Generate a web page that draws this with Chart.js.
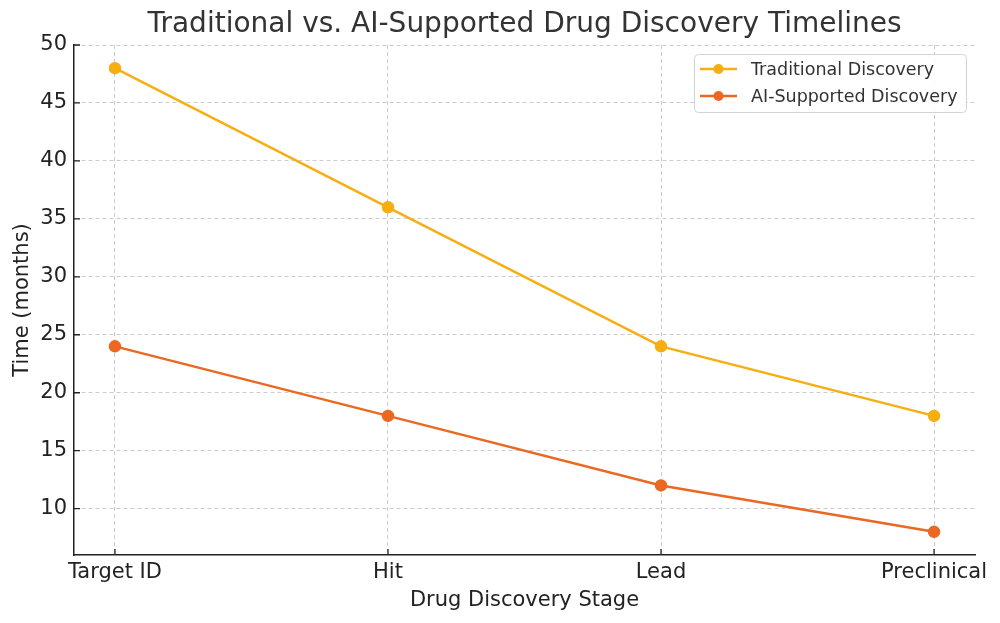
<!DOCTYPE html>
<html>
<head>
<meta charset="utf-8">
<script src="https://cdn.jsdelivr.net/npm/chart.js@4.4.1/dist/chart.umd.min.js"></script>
<style>
  html, body { margin: 0; padding: 0; background: #fff; }
  #wrap { width: 1000px; height: 623px; }
</style>
</head>
<body>
<div id="wrap"><canvas id="chart" width="1000" height="623"></canvas></div>
<script>
// chart data
const stages = ['Target ID', 'Hit', 'Lead', 'Preclinical'];
const traditional = [48, 36, 24, 18];
const aiSupported = [24, 18, 12, 8];
const yTicks = [10, 15, 20, 25, 30, 35, 40, 45, 50];

const FONT = "'DejaVu Sans', sans-serif";
const gridStyle = {
    color: '#cccccc',
    lineWidth: 1,
    drawTicks: false
};
const borderStyle = { display: true, color: '#222222', width: 1.5, dash: [4, 3] };

// title, inward tick marks and boxed legend
const extras = {
    id: 'extras',
    afterDraw(chart) {
        const ctx = chart.ctx;
        const area = chart.chartArea;
        const xs = chart.scales.x, ys = chart.scales.y;
        ctx.save();
        // title
        ctx.fillStyle = '#333333';
        ctx.font = '28px ' + FONT;
        ctx.textAlign = 'center';
        ctx.textBaseline = 'middle';
        ctx.fillText('Traditional vs. AI-Supported Drug Discovery Timelines', (area.left + area.right) / 2, 25);
        // tick marks
        ctx.strokeStyle = '#222222';
        ctx.lineWidth = 1.3;
        ctx.beginPath();
        stages.forEach((s, i) => {
            const px = xs.getPixelForValue(i);
            ctx.moveTo(px, area.bottom);
            ctx.lineTo(px, area.bottom - 6);
        });
        yTicks.forEach(v => {
            const py = ys.getPixelForValue(v);
            ctx.moveTo(area.left, py);
            ctx.lineTo(area.left + 6, py);
        });
        ctx.stroke();
        // legend
        const bx = 694, by = 54, bw = 272, bh = 58;
        ctx.fillStyle = 'rgba(255,255,255,0.85)';
        ctx.strokeStyle = '#d4d4d4';
        ctx.lineWidth = 1;
        ctx.beginPath();
        ctx.roundRect(bx + 0.5, by + 0.5, bw, bh, 4);
        ctx.fill();
        ctx.stroke();
        chart.data.datasets.forEach((ds, i) => {
            const ly = by + 15 + i * 27;
            ctx.strokeStyle = ds.borderColor;
            ctx.lineWidth = 2.5;
            ctx.beginPath();
            ctx.moveTo(bx + 6, ly);
            ctx.lineTo(bx + 43, ly);
            ctx.stroke();
            ctx.fillStyle = ds.borderColor;
            ctx.beginPath();
            ctx.arc(bx + 24.5, ly, 5, 0, Math.PI * 2);
            ctx.fill();
            ctx.fillStyle = '#333333';
            ctx.font = '17.5px ' + FONT;
            ctx.textAlign = 'left';
            ctx.textBaseline = 'middle';
            ctx.fillText(ds.label, bx + 57, ly + 1);
        });
        ctx.restore();
    }
};

const ctx = document.getElementById('chart').getContext('2d');
const chart = new Chart(ctx, {
    type: 'line',
    data: {
        datasets: [{
            label: 'Traditional Discovery',
            data: traditional.map((v, i) => ({ x: i, y: v })),
            borderColor: '#f7ae12',
            backgroundColor: '#f7ae12',
            borderWidth: 2.5,
            pointRadius: 5,
            pointHoverRadius: 5,
            tension: 0
        }, {
            label: 'AI-Supported Discovery',
            data: aiSupported.map((v, i) => ({ x: i, y: v })),
            borderColor: '#eb6823',
            backgroundColor: '#eb6823',
            borderWidth: 2.5,
            pointRadius: 5,
            pointHoverRadius: 5,
            tension: 0
        }]
    },
    options: {
        responsive: false,
        animation: false,
        layout: { padding: { top: 45, right: 25, left: 10, bottom: 0 } },
        plugins: {
            legend: { display: false },
            title: { display: false },
            tooltip: { enabled: false }
        },
        scales: {
            x: {
                type: 'linear',
                min: -0.15,
                max: 3.15,
                afterBuildTicks: s => { s.ticks = stages.map((c, i) => ({ value: i })); },
                afterFit: s => { s.height = 68; },
                grid: gridStyle,
                border: borderStyle,
                ticks: {
                    padding: 5,
                    color: '#222222',
                    font: { family: FONT, size: 21 },
                    maxRotation: 0,
                    callback: v => stages[v]
                },
                title: {
                    display: true,
                    text: 'Drug Discovery Stage',
                    color: '#222222',
                    font: { family: FONT, size: 21 },
                    padding: { top: 0, bottom: 10 }
                }
            },
            y: {
                min: 6,
                max: 50,
                afterBuildTicks: s => { s.ticks = yTicks.map(v => ({ value: v })); },
                afterFit: s => { s.width = 64; },
                grid: gridStyle,
                border: borderStyle,
                ticks: {
                    padding: 7,
                    color: '#222222',
                    font: { family: FONT, size: 21 }
                },
                title: {
                    display: true,
                    text: 'Time (months)',
                    color: '#222222',
                    font: { family: FONT, size: 21 },
                    padding: { top: 0, bottom: 0 }
                }
            }
        }
    },
    plugins: [extras]
});
</script>
</body>
</html>
